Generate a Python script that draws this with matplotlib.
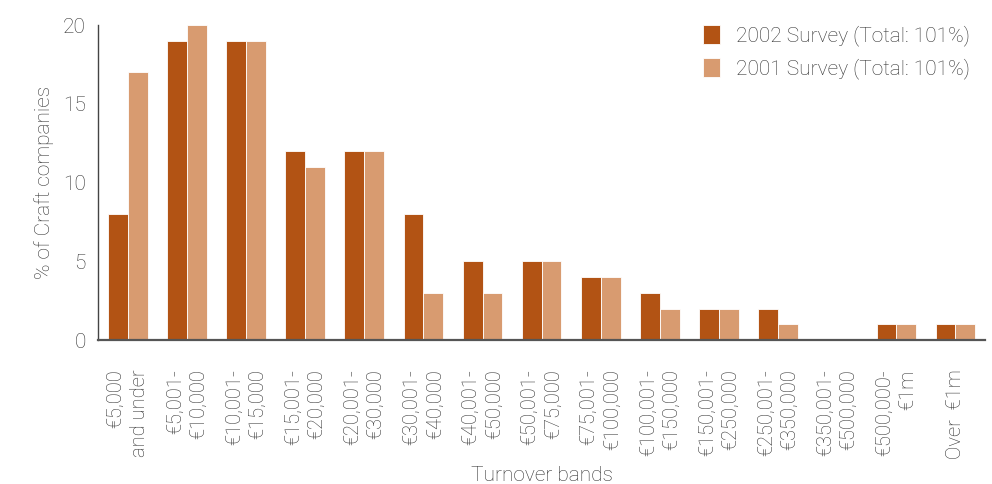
import numpy as np
import matplotlib
matplotlib.use("Agg")
import matplotlib.pyplot as plt

plt.rcParams["font.family"] = ["Roboto", "DejaVu Sans"]

# turnover bands and survey shares (%)
bands = ["€5,000\nand under", "€5,001-\n€10,000", "€10,001-\n€15,000", "€15,001-\n€20,000",
         "€20,001-\n€30,000", "€30,001-\n€40,000", "€40,001-\n€50,000", "€50,001-\n€75,000",
         "€75,001-\n€100,000", "€100,001-\n€150,000", "€150,001-\n€250,000",
         "€250,001-\n€350,000", "€350,001-\n€500,000", "€500,000-\n€1m", "Over  €1m"]
survey_2002 = [8, 19, 19, 12, 12, 8, 5, 5, 4, 3, 2, 2, 0, 1, 1]
survey_2001 = [17, 20, 19, 11, 12, 3, 3, 5, 4, 2, 2, 1, 0, 1, 1]

c2002 = "#B25314"
c2001 = "#D89B70"
grey = "#333333"
fs = 15

fig = plt.figure(figsize=(9.92, 4.84), dpi=100)
ax = fig.add_axes([0.099, 0.297, 0.894, 0.651])

x = np.arange(len(bands))
w = 0.335
ax.bar(x - w / 2, survey_2002, w, color=c2002, edgecolor="white", linewidth=0.6,
       label="2002 Survey (Total: 101%)")
ax.bar(x + w / 2, survey_2001, w, color=c2001, edgecolor="white", linewidth=0.6,
       label="2001 Survey (Total: 101%)")

ax.set_xlim(-0.5, len(bands) - 0.5)
ax.set_ylim(0, 20)
ax.set_yticks([0, 5, 10, 15, 20])
ax.set_xticks(x)
ax.set_xticklabels(bands, rotation=90, ha="center", va="top", multialignment="right",
                   fontsize=14.5, color=grey, fontweight="light", linespacing=1.3)
ax.tick_params(axis="x", length=0, pad=21)
ax.tick_params(axis="y", length=0, pad=9, labelsize=fs, labelcolor=grey)
for t in ax.get_yticklabels():
    t.set_fontweight("light")

for s in ["top", "right"]:
    ax.spines[s].set_visible(False)
ax.spines["left"].set_color("#444444")
ax.spines["bottom"].set_color("#555555")
ax.spines["left"].set_linewidth(1.0)
ax.spines["bottom"].set_linewidth(1.6)

ax.set_ylabel("% of Craft companies", fontsize=fs, color=grey, fontweight="light", labelpad=6)
ax.set_xlabel("Turnover bands", fontsize=fs, color=grey, fontweight="light", labelpad=5)

leg = ax.legend(loc="upper right", bbox_to_anchor=(1.004, 1.06), frameon=False, fontsize=fs,
                handlelength=0.85, handleheight=1.05, handletextpad=0.75, labelspacing=0.55)
for t in leg.get_texts():
    t.set_color(grey)
    t.set_fontweight("light")

fig.savefig("out.png", dpi=100)
